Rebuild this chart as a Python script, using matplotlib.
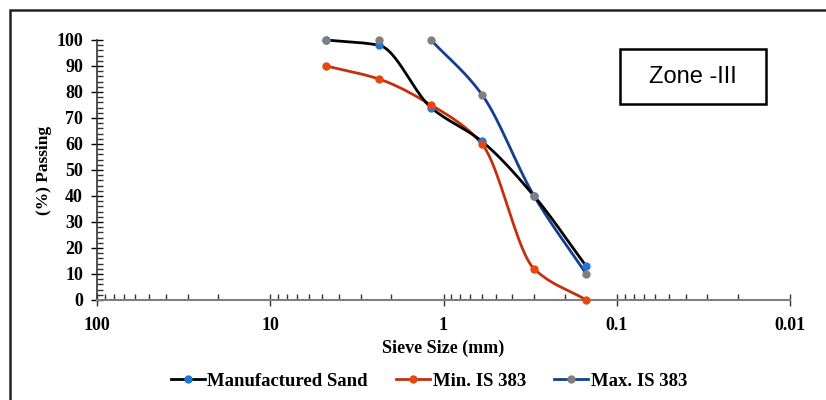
import numpy as np
import matplotlib
matplotlib.use('Agg')
import matplotlib.pyplot as plt
import matplotlib.patches as patches
from matplotlib.ticker import LogLocator, FixedLocator, MultipleLocator
from matplotlib.lines import Line2D

# sieve sizes (mm) and % passing
sieve = [4.75, 2.36, 1.18, 0.6, 0.3, 0.15]
manufactured = [100, 98, 74, 61, 40, 13]
min_is383 = [90, 85, 75, 60, 12, 0]
max_is383 = [100, 100, 100, 79, 40, 10]

x_ticks = [100, 10, 1, 0.1, 0.01]
x_ticklabels = ['100', '10', '1', '0.1', '0.01']
legend_labels = ['Manufactured Sand', 'Min. IS 383', 'Max. IS 383']
zone_text = 'Zone -III'


def smooth(xs, ys, n=40):
    """Monotone cubic (Fritsch-Carlson) through the points, done in log-x space."""
    lx = -np.log10(np.array(xs, dtype=float))   # increasing
    y = np.array(ys, dtype=float)
    h = np.diff(lx)
    d = np.diff(y) / h
    m = np.zeros_like(y)
    m[0], m[-1] = d[0], d[-1]
    for i in range(1, len(y) - 1):
        if d[i - 1] * d[i] <= 0:
            m[i] = 0
        else:
            w1 = 2 * h[i] + h[i - 1]
            w2 = h[i] + 2 * h[i - 1]
            m[i] = (w1 + w2) / (w1 / d[i - 1] + w2 / d[i])
    out_x, out_y = [], []
    t = np.linspace(0, 1, n)
    for i in range(len(y) - 1):
        h00 = 2 * t ** 3 - 3 * t ** 2 + 1
        h10 = t ** 3 - 2 * t ** 2 + t
        h01 = -2 * t ** 3 + 3 * t ** 2
        h11 = t ** 3 - t ** 2
        out_y.extend(h00 * y[i] + h10 * h[i] * m[i] + h01 * y[i + 1] + h11 * h[i] * m[i + 1])
        out_x.extend(lx[i] + t * h[i])
    return 10 ** (-np.array(out_x)), np.array(out_y)


plt.rcParams['font.family'] = ['Liberation Serif', 'DejaVu Serif']

fig = plt.figure(figsize=(8.26, 4.0), dpi=100)
ax = fig.add_axes([97 / 826, 1 - 300 / 400, (790 - 97) / 826, 260 / 400])

c_man_line, c_man_mk = '#000000', '#1f78d6'
c_min_line, c_min_mk = '#c2310c', '#e8470f'
c_max_line, c_max_mk = '#123f8f', '#7f7f7f'

# Manufactured sand
sx, sy = smooth(sieve, manufactured)
ax.plot(sx, sy, color=c_man_line, lw=2, zorder=4, clip_on=False)
ax.plot(sieve, manufactured, 'o', color=c_man_mk, ms=5, zorder=6, clip_on=False)

# Min IS 383
sx, sy = smooth(sieve, min_is383)
ax.plot(sx, sy, color=c_min_line, lw=2, zorder=3, clip_on=False)
ax.plot(sieve, min_is383, 'o', color=c_min_mk, ms=5, zorder=6, clip_on=False)

# Max IS 383 (line starts at 1.18 mm in the original)
sx, sy = smooth(sieve[2:], max_is383[2:])
ax.plot(sx, sy, color=c_max_line, lw=2, zorder=3, clip_on=False)
ax.plot(sieve, max_is383, 'o', color=c_max_mk, ms=5, zorder=7, clip_on=False)

ax.set_xscale('log')
ax.set_xlim(100, 0.01)
ax.set_ylim(0, 100)
ax.xaxis.set_major_locator(FixedLocator(x_ticks))
ax.set_xticklabels(x_ticklabels)
ax.xaxis.set_minor_locator(LogLocator(base=10, subs=np.arange(2, 10)))
ax.xaxis.set_minor_formatter(plt.NullFormatter())
ax.yaxis.set_major_locator(MultipleLocator(10))
ax.yaxis.set_minor_locator(MultipleLocator(2))

for s in ('top', 'right'):
    ax.spines[s].set_visible(False)
ax.spines['bottom'].set_color('#808080')
ax.spines['bottom'].set_linewidth(1.5)
ax.spines['left'].set_color('#333333')
ax.spines['left'].set_linewidth(1.2)

ax.tick_params(axis='both', which='major', direction='inout', length=8, width=1,
               labelsize=13)
ax.tick_params(axis='x', which='major', color='#333333', pad=8)
ax.tick_params(axis='y', which='major', pad=6)
ax.tick_params(axis='both', which='minor', direction='in', length=4, width=1, color='#333333')
for lab in ax.get_xticklabels() + ax.get_yticklabels():
    lab.set_fontweight('bold')

ax.set_xlabel('Sieve Size (mm)', fontsize=13, fontweight='bold', labelpad=4)
ax.set_ylabel('(%) Passing', fontsize=12.5, fontweight='bold', labelpad=3)

# legend
handles = [
    Line2D([], [], color=c_man_line, lw=2, marker='o', mfc=c_man_mk, mec=c_man_mk, ms=5),
    Line2D([], [], color=c_min_line, lw=2, marker='o', mfc=c_min_mk, mec=c_min_mk, ms=5),
    Line2D([], [], color=c_max_line, lw=2, marker='o', mfc=c_max_mk, mec=c_max_mk, ms=5),
]
fig.legend(handles, legend_labels, loc='center', bbox_to_anchor=(429 / 826, 1 - 381 / 400),
           ncol=3, frameon=False, handlelength=1.8, handletextpad=0.15, columnspacing=1.5,
           prop={'family': ['Liberation Serif'], 'weight': 'bold', 'size': 13.5})

# zone box
fig.text(693 / 826, 1 - 77 / 400, zone_text, ha='center', va='center', fontsize=17,
         family=['Liberation Sans', 'DejaVu Sans'])
fig.add_artist(patches.Rectangle((620 / 826, 1 - 104 / 400), 146 / 826, 55 / 400,
                                 transform=fig.transFigure, fill=False, ec='black', lw=1.8))

# outer frame (only left and top visible)
fig.add_artist(patches.Rectangle((10 / 826, -0.1), 1.1, 1.1 - 10 / 400,
                                 transform=fig.transFigure, fill=False, ec='#222222', lw=1.8,
                                 clip_on=False))

fig.savefig('out.png', dpi=100)
